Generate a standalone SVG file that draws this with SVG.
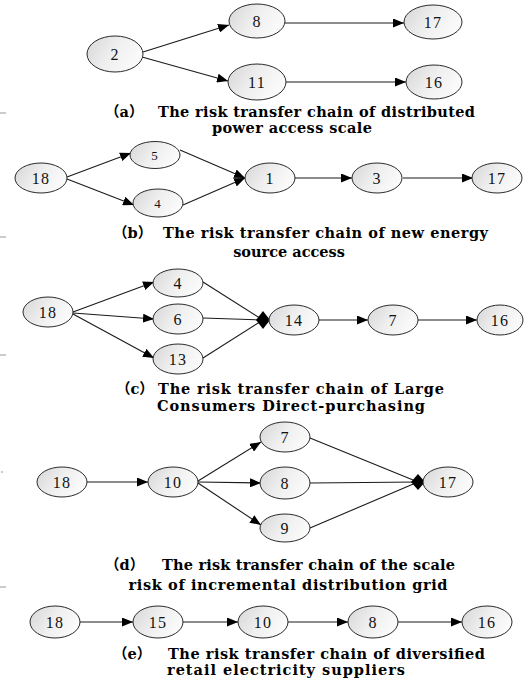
<svg xmlns="http://www.w3.org/2000/svg" width="525" height="678" viewBox="0 0 525 678">
<style>
.n{stroke:#2a2a2a;stroke-width:1;fill:url(#g)}
.t{font-family:"Liberation Serif","Times New Roman",serif;font-size:16px;fill:#111;text-anchor:middle;letter-spacing:1.2px}
.c{stroke:#1a1a1a;stroke-width:1.1;fill:none}
.a{marker-end:url(#ah)}
.cap{font-family:"DejaVu Serif","Noto Sans CJK SC",serif;font-weight:bold;font-size:14.5px;fill:#000}
.m{stroke:#999;stroke-width:1}
</style>
<defs>
<linearGradient id="g" x1="0" y1="0" x2="1" y2="0.4">
<stop offset="0" stop-color="#d6d6d6"/>
<stop offset="0.55" stop-color="#efefef"/>
<stop offset="1" stop-color="#fafafa"/>
</linearGradient>
<marker id="ah" markerUnits="userSpaceOnUse" markerWidth="12" markerHeight="9" refX="11" refY="4.5" orient="auto">
<path d="M0,0 L11,4.5 L0,9 z" fill="#000"/>
</marker>
</defs>
<rect width="525" height="678" fill="#fff"/>
<g id="edge-marks">
<line class="m" x1="0" y1="113" x2="6" y2="113"/>
<line class="m" x1="0" y1="237" x2="6" y2="237"/>
<line class="m" x1="0" y1="355" x2="6" y2="355"/>
<line class="m" x1="1" y1="472" x2="3" y2="472"/>
<line class="m" x1="0" y1="587" x2="6" y2="587"/>
</g>
<g id="connectors">
<line class="c a" x1="143" y1="52" x2="229" y2="25"/>
<line class="c a" x1="142" y1="57" x2="228" y2="81"/>
<line class="c a" x1="285" y1="23" x2="404" y2="23"/>
<line class="c a" x1="286" y1="82" x2="406" y2="82"/>
<line class="c a" x1="67" y1="177" x2="131" y2="153"/>
<line class="c a" x1="67" y1="179" x2="134" y2="205"/>
<line class="c a" x1="180" y1="150" x2="245" y2="178"/>
<line class="c a" x1="183" y1="205" x2="245" y2="178"/>
<line class="c a" x1="295" y1="178" x2="352" y2="178"/>
<line class="c a" x1="403" y1="178" x2="473" y2="178"/>
<line class="c a" x1="73" y1="312" x2="154" y2="282"/>
<line class="c a" x1="73" y1="313" x2="154" y2="319"/>
<line class="c a" x1="73" y1="314" x2="154" y2="358"/>
<line class="c" x1="203" y1="282" x2="263" y2="320"/>
<line class="c" x1="203" y1="318" x2="263" y2="320"/>
<line class="c" x1="203" y1="358" x2="263" y2="320"/>
<polygon points="256,320 263,311 270,320 263,329" fill="#000"/>
<line class="c a" x1="318" y1="320" x2="368" y2="320"/>
<line class="c a" x1="418" y1="320" x2="477" y2="320"/>
<line class="c a" x1="87" y1="482" x2="148" y2="482"/>
<line class="c a" x1="198" y1="481" x2="261" y2="442"/>
<line class="c a" x1="198" y1="482" x2="261" y2="483"/>
<line class="c a" x1="198" y1="483" x2="261" y2="525"/>
<line class="c" x1="310" y1="438" x2="418" y2="482"/>
<line class="c" x1="310" y1="483" x2="418" y2="482"/>
<line class="c" x1="310" y1="528" x2="418" y2="482"/>
<polygon points="411,482 418,474 425,482 418,490" fill="#000"/>
<line class="c a" x1="80" y1="622" x2="133" y2="622"/>
<line class="c a" x1="183" y1="622" x2="238" y2="622"/>
<line class="c a" x1="288" y1="622" x2="348" y2="622"/>
<line class="c a" x1="398" y1="622" x2="462" y2="622"/>
</g>
<g id="a-n2"><ellipse class="n" cx="115" cy="54" rx="28" ry="18"/><text class="t" x="115" y="59.5">2</text></g>
<g id="a-n8"><ellipse class="n" cx="257" cy="21" rx="28" ry="17"/><text class="t" x="257" y="26.5">8</text></g>
<g id="a-n17"><ellipse class="n" cx="433" cy="22" rx="29" ry="17"/><text class="t" x="433" y="27.5">17</text></g>
<g id="a-n11"><ellipse class="n" cx="257" cy="82" rx="29" ry="18"/><text class="t" x="257" y="87.5">11</text></g>
<g id="a-n16"><ellipse class="n" cx="434" cy="82" rx="28" ry="17"/><text class="t" x="434" y="87.5">16</text></g>
<text class="cap" y="117"><tspan x="105">（a）</tspan><tspan x="158" textLength="317">The risk transfer chain of distributed</tspan></text>
<text class="cap" x="292" y="133" text-anchor="middle" textLength="160">power access scale</text>
<g id="b-n18"><ellipse class="n" cx="41" cy="178" rx="26" ry="15"/><text class="t" x="41" y="183.5">18</text></g>
<g id="b-n5"><ellipse class="n" cx="155" cy="155" rx="25" ry="13.5"/><text class="t" x="155" y="160" style="font-size:13px">5</text></g>
<g id="b-n4"><ellipse class="n" cx="158" cy="203" rx="25" ry="14"/><text class="t" x="158" y="208" style="font-size:13px">4</text></g>
<g id="b-n1"><ellipse class="n" cx="270" cy="178" rx="25" ry="15"/><text class="t" x="270" y="183.5">1</text></g>
<g id="b-n3"><ellipse class="n" cx="377" cy="178" rx="25" ry="15"/><text class="t" x="377" y="183.5">3</text></g>
<g id="b-n17"><ellipse class="n" cx="497" cy="178" rx="25" ry="15"/><text class="t" x="497" y="183.5">17</text></g>
<text class="cap" y="238"><tspan x="113">（b）</tspan><tspan x="163" textLength="325">The risk transfer chain of  new energy</tspan></text>
<text class="cap" x="289" y="257" text-anchor="middle">source access</text>
<g id="c-n18"><ellipse class="n" cx="48" cy="312" rx="25" ry="15"/><text class="t" x="48" y="317.5">18</text></g>
<g id="c-n4"><ellipse class="n" cx="178" cy="283" rx="25" ry="14"/><text class="t" x="178" y="288.5">4</text></g>
<g id="c-n6"><ellipse class="n" cx="178" cy="319" rx="25" ry="15"/><text class="t" x="178" y="324.5">6</text></g>
<g id="c-n13"><ellipse class="n" cx="178" cy="359" rx="25" ry="15"/><text class="t" x="178" y="364.5">13</text></g>
<g id="c-n14"><ellipse class="n" cx="294" cy="320" rx="25" ry="15"/><text class="t" x="294" y="325.5">14</text></g>
<g id="c-n7"><ellipse class="n" cx="393" cy="320" rx="25" ry="15"/><text class="t" x="393" y="325.5">7</text></g>
<g id="c-n16"><ellipse class="n" cx="500" cy="320" rx="23" ry="15"/><text class="t" x="500" y="325.5">16</text></g>
<text class="cap" y="394"><tspan x="116">（c）</tspan><tspan x="158" textLength="286">The risk transfer chain of Large</tspan></text>
<text class="cap" x="291" y="411" text-anchor="middle" textLength="268">Consumers Direct-purchasing</text>
<g id="d-n18"><ellipse class="n" cx="62" cy="482" rx="25" ry="15"/><text class="t" x="62" y="487.5">18</text></g>
<g id="d-n10"><ellipse class="n" cx="173" cy="482" rx="25" ry="15"/><text class="t" x="173" y="487.5">10</text></g>
<g id="d-n7"><ellipse class="n" cx="285" cy="437" rx="25" ry="15"/><text class="t" x="285" y="442.5">7</text></g>
<g id="d-n8"><ellipse class="n" cx="285" cy="483" rx="25" ry="16"/><text class="t" x="285" y="488.5">8</text></g>
<g id="d-n9"><ellipse class="n" cx="285" cy="528" rx="25" ry="14"/><text class="t" x="285" y="533.5">9</text></g>
<g id="d-n17"><ellipse class="n" cx="448" cy="482" rx="25" ry="15"/><text class="t" x="448" y="487.5">17</text></g>
<text class="cap" y="570"><tspan x="105">（d）</tspan><tspan x="162" textLength="293">The risk transfer chain of the scale</tspan></text>
<text class="cap" x="288" y="590" text-anchor="middle" textLength="319">risk of incremental distribution grid</text>
<g id="e-n18"><ellipse class="n" cx="55" cy="622" rx="25" ry="16"/><text class="t" x="55" y="627.5">18</text></g>
<g id="e-n15"><ellipse class="n" cx="158" cy="622" rx="25" ry="16"/><text class="t" x="158" y="627.5">15</text></g>
<g id="e-n10"><ellipse class="n" cx="263" cy="622" rx="25" ry="16"/><text class="t" x="263" y="627.5">10</text></g>
<g id="e-n8"><ellipse class="n" cx="373" cy="622" rx="25" ry="16"/><text class="t" x="373" y="627.5">8</text></g>
<g id="e-n16"><ellipse class="n" cx="487" cy="622" rx="25" ry="16"/><text class="t" x="487" y="627.5">16</text></g>
<text class="cap" y="659"><tspan x="113">（e）</tspan><tspan x="168" textLength="317">The risk transfer chain of diversified</tspan></text>
<text class="cap" x="286" y="675" text-anchor="middle" textLength="238">retail electricity suppliers</text>
</svg>
